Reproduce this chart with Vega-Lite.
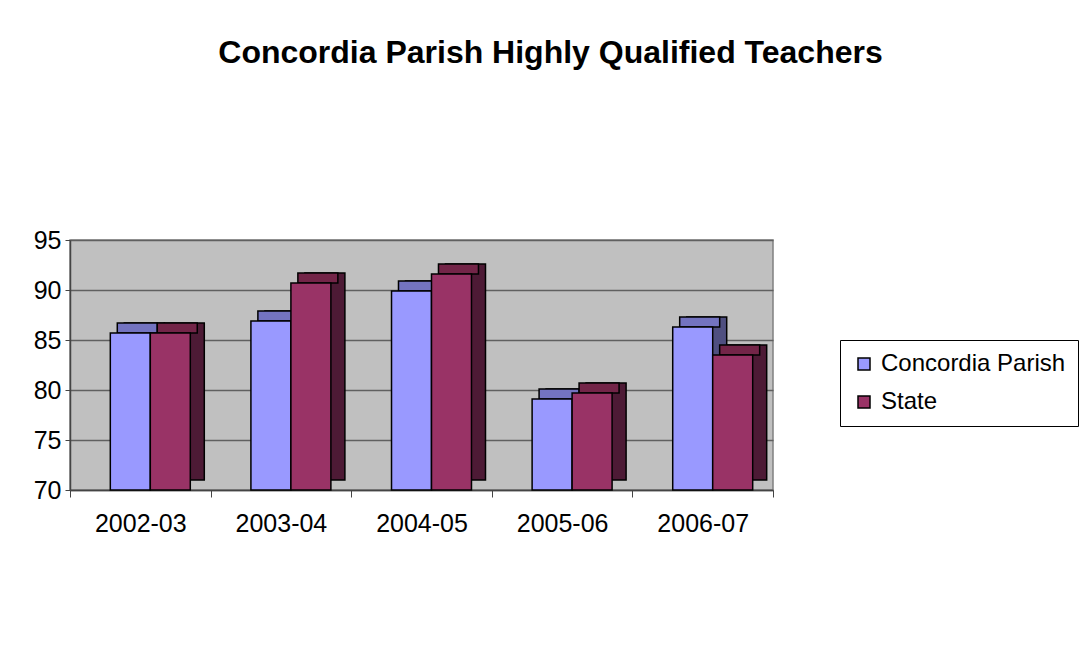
{
 "$schema": "https://vega.github.io/schema/vega-lite/v6.json",
 "width": 703,
 "height": 250,
 "autosize": {"type": "none"},
 "padding": {"left": 70, "top": 240, "right": 306, "bottom": 180},
 "background": "white",
 "config": {"font": "Liberation Sans", "view": {"fill": "#C0C0C0", "stroke": "#808080", "strokeWidth": 1.5}},
 "title": {"text": "Concordia Parish Highly Qualified Teachers", "fontSize": 32, "fontWeight": "bold", "font": "Liberation Sans", "color": "black", "anchor": "middle", "frame": "group", "dx": 129, "offset": 158},
 "data": {"values": [
  {"year": "2002-03", "series": "Concordia Parish", "value": 85.7},
  {"year": "2002-03", "series": "State", "value": 85.7},
  {"year": "2003-04", "series": "Concordia Parish", "value": 86.9},
  {"year": "2003-04", "series": "State", "value": 90.7},
  {"year": "2004-05", "series": "Concordia Parish", "value": 89.9},
  {"year": "2004-05", "series": "State", "value": 91.6},
  {"year": "2005-06", "series": "Concordia Parish", "value": 79.1},
  {"year": "2005-06", "series": "State", "value": 79.7},
  {"year": "2006-07", "series": "Concordia Parish", "value": 86.3},
  {"year": "2006-07", "series": "State", "value": 83.5}
 ]},
 "encoding": {
  "x": {"field": "year", "type": "nominal", "sort": null, "scale": {"paddingInner": 0, "paddingOuter": 0},
   "axis": {"title": null, "labelAngle": 0, "labelFontSize": 25, "labelColor": "black", "tickBand": "extent", "tickSize": 7, "tickColor": "#444", "domainColor": "#444", "domainWidth": 1.5, "labelPadding": 14, "grid": false}},
  "y": {"field": "value", "type": "quantitative", "scale": {"domain": [70, 95], "nice": false, "zero": false},
   "axis": {"title": null, "values": [70, 75, 80, 85, 90, 95], "labelFontSize": 25, "labelColor": "black", "tickSize": 5, "labelPadding": 4, "gridColor": "#606060", "gridWidth": 1.5, "domainColor": "#444", "domainWidth": 1.5, "tickColor": "#444"}}
 },
 "layer": [
  {"mark": {"type": "bar", "yOffset": -10, "y2Offset": -10, "stroke": "black", "strokeWidth": 1.5},
   "encoding": {
    "xOffset": {"field": "series", "type": "nominal", "sort": ["Concordia Parish", "State"], "scale": {"paddingOuter": 0.758, "paddingInner": 0, "align": 0.896}},
    "y2": {"datum": 70},
    "fill": {"field": "series", "type": "nominal", "scale": {"domain": ["Concordia Parish", "State"], "range": ["#4F4F80", "#4D1A35"]}, "legend": null}}},
  {"mark": {"type": "rect", "yOffset": -10, "stroke": "black", "strokeWidth": 1.5},
   "encoding": {
    "xOffset": {"field": "series", "type": "nominal", "sort": ["Concordia Parish", "State"], "scale": {"paddingOuter": 0.758, "paddingInner": 0, "align": 0.78}},
    "y2": {"field": "value"},
    "fill": {"field": "series", "type": "nominal", "scale": {"domain": ["Concordia Parish", "State"], "range": ["#7373C0", "#732548"]}, "legend": null}}},
  {"mark": {"type": "bar", "stroke": "black", "strokeWidth": 1.5},
   "encoding": {
    "xOffset": {"field": "series", "type": "nominal", "sort": ["Concordia Parish", "State"], "scale": {"paddingOuter": 0.758, "paddingInner": 0, "align": 0.665}},
    "y2": {"datum": 70},
    "color": {"field": "series", "type": "nominal", "scale": {"domain": ["Concordia Parish", "State"], "range": ["#9999FF", "#993366"]},
    "legend": {"title": null, "orient": "none", "legendX": 770, "legendY": 100, "fillColor": "white", "strokeColor": "black", "padding": 12, "labelFontSize": 24, "labelColor": "black", "labelLimit": 400, "symbolType": "square", "symbolSize": 144, "symbolStrokeColor": "black", "symbolStrokeWidth": 1.5, "rowPadding": 14, "labelOffset": 5}}}}
 ],
 "resolve": {"scale": {"fill": "independent", "xOffset": "independent"}}
}
